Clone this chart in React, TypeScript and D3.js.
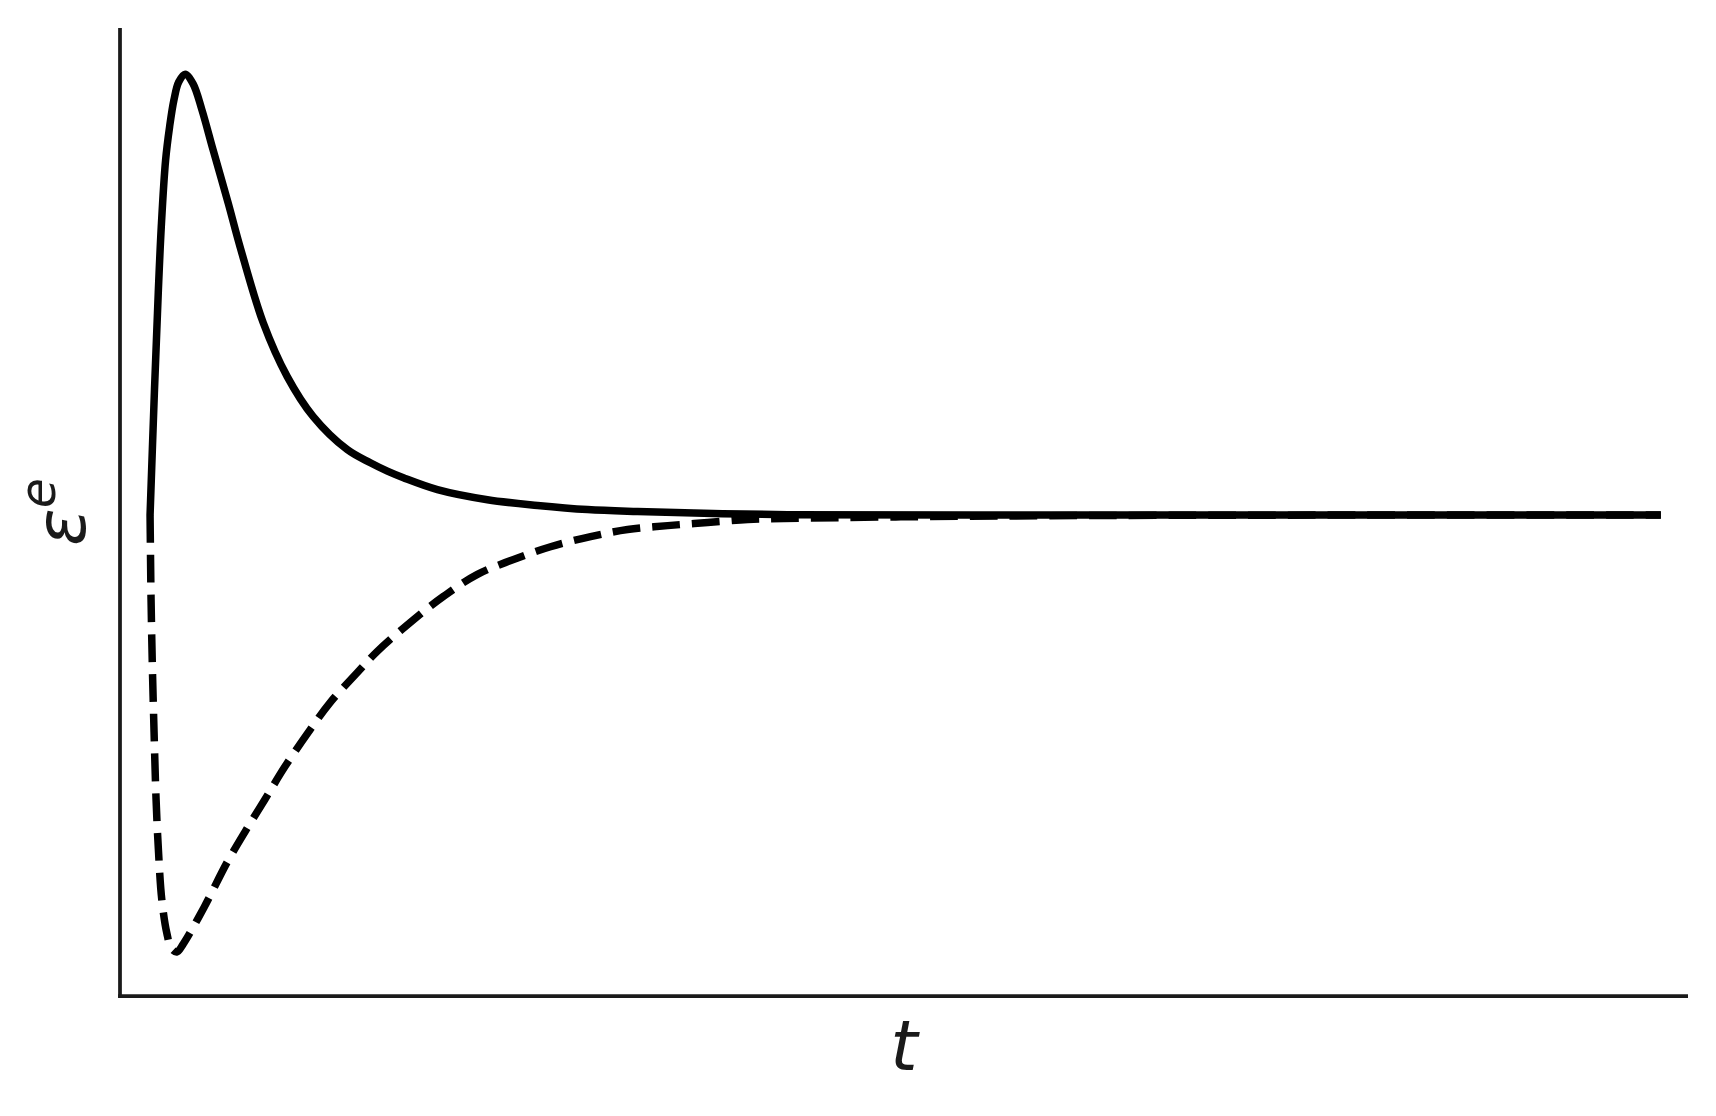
import React from 'react';
import * as d3 from 'd3';

// solid curve: time and strain values
const tSolid = [
  0, 0.0285, 0.0543, 0.0742, 0.1027, 0.1292, 0.1577, 0.1895, 0.232, 0.285,
  0.343, 0.417, 0.517, 0.596, 0.749, 0.908, 1.08, 1.305, 1.458, 1.571, 1.677,
  1.902, 2.233, 2.565, 2.896, 3.227, 3.665, 4.22, 6, 8, 10,
];
const eSolid = [
  0, 0.278, 0.506, 0.656, 0.807, 0.883, 0.944, 0.985, 1.003, 0.981, 0.922,
  0.831, 0.71, 0.61, 0.4375, 0.315, 0.224, 0.149, 0.119, 0.1, 0.085, 0.058,
  0.035, 0.022, 0.0125, 0.008, 0.004, 0.001, 0, 0, 0,
];

// dashed curve
const tDashed = [
  0, 0.002, 0.0066, 0.0152, 0.0265, 0.0398, 0.055, 0.0775, 0.111, 0.14, 0.177,
  0.219, 0.358, 0.51, 0.636, 0.76, 0.895, 1.06, 1.193, 1.372, 1.504, 1.723,
  1.942, 2.167, 2.406, 2.651, 2.916, 3.161, 3.426, 3.691, 3.956, 4.195, 4.97,
  6.3, 8, 10,
];
const eDashed = [
  0, -0.0625, -0.192, -0.344, -0.494, -0.647, -0.76, -0.874, -0.951, -0.985,
  -0.994, -0.976, -0.892, -0.79, -0.716, -0.647, -0.571, -0.488, -0.426,
  -0.358, -0.31, -0.244, -0.185, -0.135, -0.101, -0.072, -0.049, -0.033,
  -0.024, -0.017, -0.01, -0.008, -0.004, -0.001, 0, 0,
];

const W = 1716;
const H = 1116;
const margin = { top: 28, right: 28, bottom: 120, left: 120 };

export default function App() {
  const x = d3
    .scaleLinear()
    .domain([-0.199, 10.18])
    .range([margin.left, W - margin.right]);
  const y = d3
    .scaleLinear()
    .domain([-1.094, 1.108])
    .range([H - margin.bottom, margin.top]);

  const line = d3
    .line<[number, number]>()
    .x((d) => x(d[0]))
    .y((d) => y(d[1]))
    .curve(d3.curveCatmullRom.alpha(0.5));

  const solid = line(tSolid.map((t, i) => [t, eSolid[i]]) as [number, number][]);
  const dashed = line(tDashed.map((t, i) => [t, eDashed[i]]) as [number, number][]);

  const x0 = margin.left;
  const x1 = W - margin.right;
  const yb = H - margin.bottom;
  const axisColor = '#1a1a1a';

  return (
    <svg
      width={W}
      height={H}
      style={{ position: 'absolute', left: 0, top: 0, background: '#fff' }}
    >
      <path d={solid || ''} fill="none" stroke="#000" strokeWidth={7.5} strokeLinejoin="round" />
      <path
        d={dashed || ''}
        fill="none"
        stroke="#000"
        strokeWidth={7.5}
        strokeDasharray="27.75,12"
      />
      {/* spines */}
      <line x1={x0} x2={x0} y1={margin.top} y2={yb + 1.75} stroke={axisColor} strokeWidth={3.75} />
      <line x1={x0 - 1.9} x2={x1} y1={yb} y2={yb} stroke={axisColor} strokeWidth={3.75} />
      {/* axis labels */}
      <text
        x={(x0 + x1) / 2}
        y={1070}
        textAnchor="middle"
        fontFamily="DejaVu Sans"
        fontStyle="italic"
        fontSize={70}
        fill={axisColor}
      >
        t
      </text>
      <text
        transform={`translate(85, 546) rotate(-90)`}
        fontFamily="DejaVu Sans"
        fontStyle="italic"
        fontSize={70}
        fill={axisColor}
      >
        ε
        <tspan dy={-30} fontSize={49}>
          e
        </tspan>
      </text>
    </svg>
  );
}
